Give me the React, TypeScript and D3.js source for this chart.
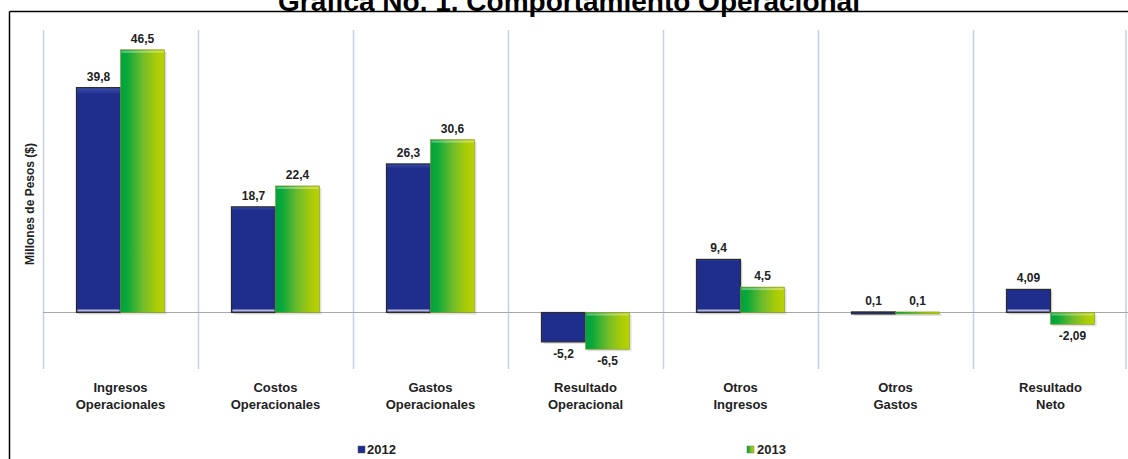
import * as d3 from 'd3'

const categories = ['Ingresos|Operacionales', 'Costos|Operacionales', 'Gastos|Operacionales', 'Resultado|Operacional', 'Otros|Ingresos', 'Otros|Gastos', 'Resultado|Neto']
const series = ['2012', '2013']
const values2012 = [39.8, 18.7, 26.3, -5.2, 9.4, 0.1, 4.09]
const values2013 = [46.5, 22.4, 30.6, -6.5, 4.5, 0.1, -2.09]
const yDomain = [-10, 50]

const W = 1128
const H = 459
const fmt = (v: number) => String(v).replace('.', ',')
const font = 'Arial, "Liberation Sans", sans-serif'

export default function App() {
  const x = d3.scaleBand().domain(categories).range([43, 1128])
  const xs = d3.scaleBand().domain(series).range([0, x.bandwidth()]).paddingInner(0).paddingOuter(0.76)
  const y = d3.scaleLinear().domain(yDomain).range([369, 30])
  const y0 = y(0)

  const bars = categories.flatMap((c, i) => [
    { c, s: '2012', v: values2012[i] },
    { c, s: '2013', v: values2013[i] },
  ])

  return (
    <svg width={W} height={H} style={{ position: 'absolute', left: 0, top: 0, background: '#fff' }} fontFamily={font}>
      <defs>
        <linearGradient id="gGreen" x1="0" x2="1" y1="0" y2="0">
          <stop offset="0" stopColor="#00a33f" />
          <stop offset="0.15" stopColor="#0aa83a" />
          <stop offset="0.5" stopColor="#6fbb2c" />
          <stop offset="0.8" stopColor="#a8cb08" />
          <stop offset="1" stopColor="#b9d200" />
        </linearGradient>
        <linearGradient id="gBlue" x1="0" x2="0" y1="0" y2="1">
          <stop offset="0" stopColor="#3a4fb0" />
          <stop offset="0.03" stopColor="#1f2e8c" />
          <stop offset="1" stopColor="#1f2e8c" />
        </linearGradient>
      </defs>

      {/* title, cut at the top edge as in the source image */}
      <text x={569} y={11} textAnchor="middle" fontSize={28} fontWeight="bold" fill="#000">
        Grafica No. 1. Comportamiento Operacional
      </text>

      {/* frame */}
      <line x1={9.5} x2={W} y1={11.5} y2={11.5} stroke="#000" strokeWidth={1.5} />
      <line x1={9.5} x2={9.5} y1={11.5} y2={H} stroke="#000" strokeWidth={1.5} />

      {/* category separators */}
      {categories.map((c) => (
        <line key={c} x1={x(c)! + 0.5} x2={x(c)! + 0.5} y1={y(yDomain[1])} y2={y(yDomain[0])} stroke="#c3d0e6" strokeWidth={1.5} />
      ))}
      <line x1={W - 2} x2={W - 2} y1={y(yDomain[1])} y2={y(yDomain[0])} stroke="#c3d0e6" strokeWidth={1.5} />

      {/* zero line */}
      <line x1={43} x2={W} y1={y0} y2={y0} stroke="#a8a8a8" strokeWidth={1} />

      {/* bars */}
      {bars.map((d) => {
        const bx = x(d.c)! + xs(d.s)!
        const bw = xs.bandwidth()
        const top = Math.min(y(d.v), y0)
        const h = Math.max(Math.abs(y(d.v) - y0), 2)
        const blue = d.s === '2012'
        return (
          <g key={d.c + d.s}>
            <rect x={bx + 2} y={top + 2} width={bw} height={h} fill="#000" opacity={0.12} />
            <rect x={bx} y={top} width={bw} height={h}
              fill={blue ? 'url(#gBlue)' : 'url(#gGreen)'}
              stroke={blue ? '#2b2b2b' : '#8a9a20'} strokeWidth={blue ? 1.2 : 0.6} />
            {!blue && h > 4 && <rect x={bx + 1} y={top + 1} width={bw - 2} height={2} fill="#fff" opacity={0.35} />}
            {blue && d.v > 1 && <rect x={bx + 1} y={y0 - 3} width={bw - 2} height={2} fill="#c8c8d8" opacity={0.9} />}
            <text x={bx + bw / 2} y={d.v >= 0 ? top - 7 : top + h + 16} textAnchor="middle" fontSize={12} fontWeight="bold" fill="#222">
              {fmt(d.v)}
            </text>
          </g>
        )
      })}

      {/* category labels */}
      {categories.map((c) => {
        const [a, b] = c.split('|')
        const cx = x(c)! + x.bandwidth() / 2
        return (
          <text key={c} x={cx} textAnchor="middle" fontSize={13} fontWeight="bold" fill="#222">
            <tspan x={cx} y={392}>{a}</tspan>
            <tspan x={cx} y={409}>{b}</tspan>
          </text>
        )
      })}

      {/* y axis title */}
      <text transform="translate(34,204) rotate(-90)" textAnchor="middle" fontSize={12} fontWeight="bold" fill="#222">
        Millones de Pesos ($)
      </text>

      {/* legend */}
      <rect x={358} y={446} width={7} height={7} fill="url(#gBlue)" stroke="#555" strokeWidth={0.5} />
      <text x={367} y={454} fontSize={13} fontWeight="bold" fill="#222">2012</text>
      <rect x={747} y={446} width={7} height={7} fill="url(#gGreen)" stroke="#777" strokeWidth={0.5} />
      <text x={757} y={454} fontSize={13} fontWeight="bold" fill="#222">2013</text>
    </svg>
  )
}
